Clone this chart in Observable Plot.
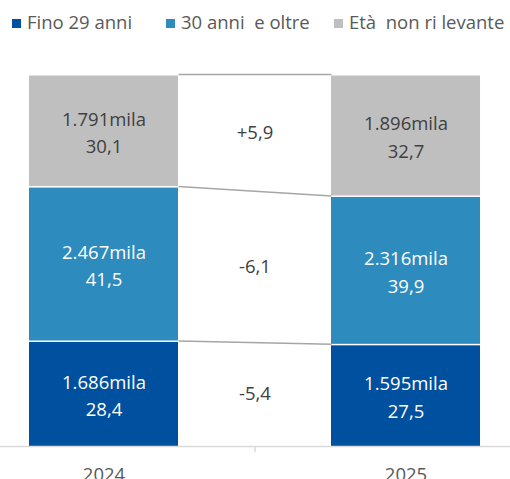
<!DOCTYPE html>
<html>
<head>
<meta charset="utf-8">
<script src="https://cdn.jsdelivr.net/npm/d3@7"></script>
<script src="https://cdn.jsdelivr.net/npm/@observablehq/plot@0.6"></script>
<style>
  html, body { margin: 0; padding: 0; background: #fff; }
  body { width: 510px; height: 479px; overflow: hidden; font-family: "Open Sans", sans-serif; }
  #legend { position: relative; height: 40px; width: 510px; }
  .item { position: absolute; top: 10px; display: flex; align-items: center; font-size: 18.5px; color: #595959; white-space: pre; line-height: 24px; }
  .sw { width: 9px; height: 9px; margin-right: 6px; margin-top: 3px; }
</style>
</head>
<body>
<div id="legend"></div>
<div id="chart"></div>
<script>
const years = [2024, 2025];
const categories = ["Fino 29 anni", "30 anni  e oltre", "Età  non ri levante"];
const counts2024 = [1686, 2467, 1791];
const counts2025 = [1595, 2316, 1896];
const shares2024 = [28.4, 41.5, 30.1];
const shares2025 = [27.5, 39.9, 32.7];
const changes = [-5.4, -6.1, 5.9];
const colors = ["#0050A0", "#2E8BBE", "#BFBFBF"];

const HW = 0.2467; // half bar width in year units
const locale = d3.formatLocale({decimal: ",", thousands: ".", grouping: [3], currency: ["", ""]});
const fmtInt = locale.format(",d");
const fmtDec = locale.format(".1f");
const fmtSigned = locale.format("+.1f");

const counts = [counts2024, counts2025];
const shares = [shares2024, shares2025];

// cumulative boundaries (normalized) for connectors and labels
const totals = counts.map(c => d3.sum(c));
const tops = counts.map((c, j) => d3.cumsum(c).map(v => v / totals[j]));
const mids = counts.map((c, j) => c.map((v, i) => (tops[j][i] - v / totals[j] / 2)));

const rows = [];
years.forEach((year, j) => {
  categories.forEach((cat, i) => {
    rows.push({year, cat, i, count: counts[j][i], share: shares[j][i], mid: mids[j][i]});
  });
});

const links = categories.map((cat, i) => ({y1: tops[0][i], y2: tops[1][i]}));
const midX = (years[0] + years[1]) / 2;
const changeRows = categories.map((cat, i) => ({x: midX, y: (mids[0][i] + mids[1][i]) / 2, v: changes[i]}));

// legend
const legend = document.getElementById("legend");
const legendLeft = [12, 166, 334];
categories.forEach((cat, i) => {
  const it = document.createElement("div");
  it.className = "item";
  it.style.left = legendLeft[i] + "px";
  const sw = document.createElement("span");
  sw.className = "sw";
  sw.style.background = colors[i];
  const tx = document.createElement("span");
  tx.textContent = cat;
  it.appendChild(sw); it.appendChild(tx);
  legend.appendChild(it);
});

const labelText = d => `${fmtInt(d.count)}mila\n${fmtDec(d.share)}`;

const chart = Plot.plot({
  width: 510,
  height: 439,
  marginLeft: 0,
  marginRight: 0,
  marginTop: 34,
  marginBottom: 33,
  style: {fontFamily: "Open Sans", fontSize: "18.5px", background: "#fff"},
  x: {domain: [2024 - 0.3427, 2025 + 0.3460], axis: null},
  y: {domain: [0, 1], axis: null},
  color: {domain: categories, range: colors},
  marks: [
    Plot.link(links, {
      x1: () => years[0] + HW, x2: () => years[1] - HW,
      y1: "y1", y2: "y2", stroke: "#A6A6A6", strokeWidth: 1.5
    }),
    Plot.rectY(rows, {
      x1: d => d.year - HW, x2: d => d.year + HW,
      y: "count", z: "cat", fill: "cat", offset: "normalize", insetTop: 1.5
    }),
    Plot.text(rows.filter(d => d.i < 2), {
      x: "year", y: "mid",
      text: labelText, fill: "white", lineHeight: 1.48, fontSize: 18.5
    }),
    Plot.text(rows.filter(d => d.i >= 2), {
      x: "year", y: "mid",
      text: labelText, fill: "#404040", lineHeight: 1.48, fontSize: 18.5
    }),
    Plot.text(changeRows, {
      x: "x", y: "y", text: d => fmtSigned(d.v).replace("\u2212", "-"),
      fill: "#404040", fontSize: 18.5
    }),
    Plot.ruleY([0], {stroke: "#D9D9D9", strokeWidth: 1.5}),
    Plot.axisX([midX], {tickSize: 6, tickFormat: () => "", stroke: "#D9D9D9", strokeWidth: 1.5}),
    Plot.axisX(years, {tickSize: 0, tickPadding: 21, tickFormat: d => String(d), fill: "#595959", fontSize: 18.5})
  ]
});
document.getElementById("chart").appendChild(chart);
</script>
</body>
</html>
